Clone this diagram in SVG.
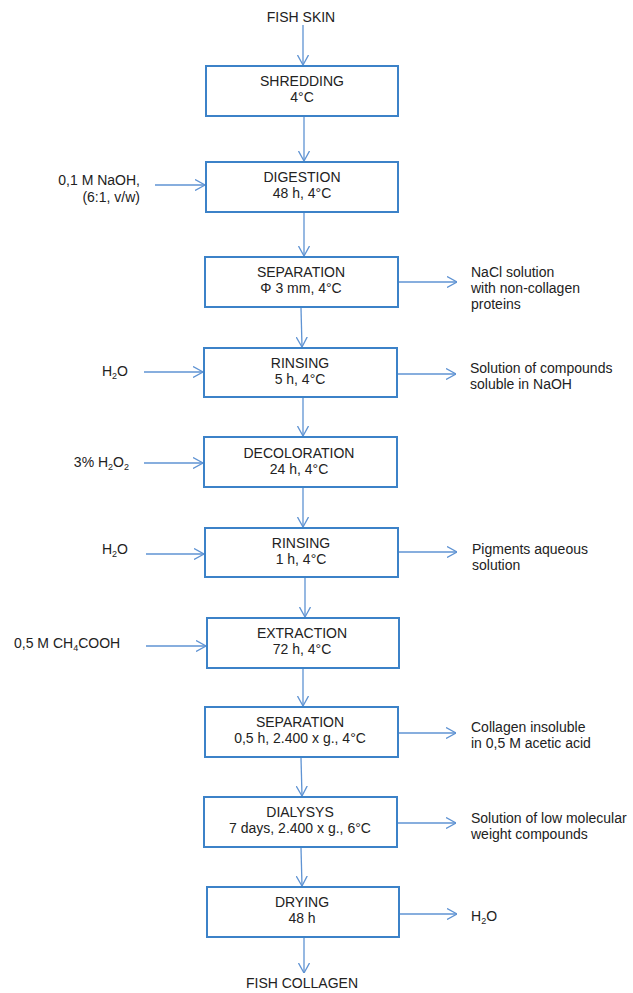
<svg xmlns="http://www.w3.org/2000/svg" width="633" height="993" viewBox="0 0 633 993">
<style>
text{font-family:"Liberation Sans",Arial,sans-serif;font-size:14px;fill:#222}
.c{text-anchor:middle}
.e{text-anchor:end}
.box{fill:#fff;stroke:#3c82c8;stroke-width:2}
.ln{fill:none;stroke:#5f93d3;stroke-width:1.3;marker-end:url(#ah)}
.sb{font-size:9px}
</style>
<defs>
<marker id="ah" viewBox="0 0 10 12" refX="10" refY="6" markerWidth="10" markerHeight="12" markerUnits="userSpaceOnUse" orient="auto">
<path d="M0,0.5 L10,6 L0,11.5" fill="none" stroke="#5f93d3" stroke-width="1.3"/>
</marker>
</defs>
<rect width="633" height="993" fill="#fff"/>
<g id="connectors">
<line class="ln" x1="303" y1="25" x2="303" y2="65"/>
<line class="ln" x1="304" y1="117" x2="304" y2="161"/>
<line class="ln" x1="304" y1="212" x2="304" y2="256"/>
<line class="ln" x1="301" y1="308" x2="302" y2="347"/>
<line class="ln" x1="303" y1="398" x2="303" y2="436"/>
<line class="ln" x1="303" y1="488" x2="303" y2="527"/>
<line class="ln" x1="305" y1="578" x2="305" y2="617"/>
<line class="ln" x1="303" y1="669" x2="303" y2="706"/>
<line class="ln" x1="301" y1="758" x2="302" y2="796"/>
<line class="ln" x1="301" y1="848" x2="302" y2="886"/>
<line class="ln" x1="304" y1="938" x2="304" y2="973"/>
<line class="ln" x1="155" y1="185" x2="205" y2="185"/>
<line class="ln" x1="144" y1="372" x2="203" y2="372"/>
<line class="ln" x1="144" y1="463" x2="203" y2="463"/>
<line class="ln" x1="146" y1="554" x2="204" y2="554"/>
<line class="ln" x1="146" y1="646" x2="206" y2="646"/>
<line class="ln" x1="398" y1="282" x2="457" y2="282"/>
<line class="ln" x1="397" y1="374" x2="456" y2="374"/>
<line class="ln" x1="398" y1="552" x2="457" y2="552"/>
<line class="ln" x1="398" y1="733" x2="456" y2="733"/>
<line class="ln" x1="397" y1="823" x2="456" y2="823"/>
<line class="ln" x1="399" y1="914" x2="457" y2="914"/>
</g>
<g id="fish-skin"><text class="c" x="301" y="22">FISH SKIN</text></g>
<g id="shredding"><rect class="box" x="206" y="66" width="192" height="50"/><text class="c" x="302" y="86">SHREDDING</text><text class="c" x="302" y="102">4°C</text></g>
<g id="digestion"><rect class="box" x="206" y="162" width="192" height="50"/><text class="c" x="302" y="182">DIGESTION</text><text class="c" x="302" y="198">48 h, 4°C</text></g>
<g id="separation1"><rect class="box" x="205" y="257" width="193" height="50"/><text class="c" x="301" y="277">SEPARATION</text><text class="c" x="301" y="293">Φ 3 mm, 4°C</text></g>
<g id="rinsing1"><rect class="box" x="204" y="348" width="193" height="49"/><text class="c" x="300" y="368">RINSING</text><text class="c" x="300" y="384">5 h, 4°C</text></g>
<g id="decoloration"><rect class="box" x="204" y="437" width="193" height="50"/><text class="c" x="299" y="458">DECOLORATION</text><text class="c" x="299" y="474">24 h, 4°C</text></g>
<g id="rinsing2"><rect class="box" x="205" y="528" width="193" height="49"/><text class="c" x="301" y="548">RINSING</text><text class="c" x="301" y="564">1 h, 4°C</text></g>
<g id="extraction"><rect class="box" x="207" y="618" width="192" height="50"/><text class="c" x="302" y="638">EXTRACTION</text><text class="c" x="302" y="654">72 h, 4°C</text></g>
<g id="separation2"><rect class="box" x="205" y="707" width="193" height="50"/><text class="c" x="300" y="727">SEPARATION</text><text class="c" x="300" y="743">0,5 h, 2.400 x g., 4°C</text></g>
<g id="dialysys"><rect class="box" x="204" y="797" width="193" height="50"/><text class="c" x="300" y="817">DIALYSYS</text><text class="c" x="300" y="833">7 days, 2.400 x g., 6°C</text></g>
<g id="drying"><rect class="box" x="207" y="887" width="192" height="50"/><text class="c" x="302" y="907">DRYING</text><text class="c" x="302" y="923">48 h</text></g>
<g id="fish-collagen"><text class="c" x="302" y="988">FISH COLLAGEN</text></g>
<g id="in-naoh"><text class="e" x="140" y="185">0,1 M NaOH,</text><text class="e" x="140" y="202">(6:1, v/w)</text></g>
<g id="in-h2o-1"><text class="e" x="128" y="376">H<tspan class="sb" dy="3">2</tspan><tspan dy="-3">O</tspan></text></g>
<g id="in-h2o2"><text class="e" x="129" y="467">3% H<tspan class="sb" dy="3">2</tspan><tspan dy="-3">O</tspan><tspan class="sb" dy="3">2</tspan></text></g>
<g id="in-h2o-2"><text class="e" x="128" y="554">H<tspan class="sb" dy="3">2</tspan><tspan dy="-3">O</tspan></text></g>
<g id="in-acid"><text x="14" y="648">0,5 M CH<tspan class="sb" dy="3">4</tspan><tspan dy="-3">COOH</tspan></text></g>
<g id="out-nacl"><text x="471" y="277">NaCl solution</text><text x="471" y="293">with non-collagen</text><text x="471" y="309">proteins</text></g>
<g id="out-naoh"><text x="470" y="373">Solution of compounds</text><text x="470" y="389">soluble in NaOH</text></g>
<g id="out-pigments"><text x="472" y="554">Pigments aqueous</text><text x="472" y="570">solution</text></g>
<g id="out-collagen"><text x="471" y="732">Collagen insoluble</text><text x="471" y="748">in 0,5 M acetic acid</text></g>
<g id="out-lowmol"><text x="471" y="823">Solution of low molecular</text><text x="471" y="839">weight compounds</text></g>
<g id="out-h2o"><text x="471" y="921">H<tspan class="sb" dy="3">2</tspan><tspan dy="-3">O</tspan></text></g>
</svg>
